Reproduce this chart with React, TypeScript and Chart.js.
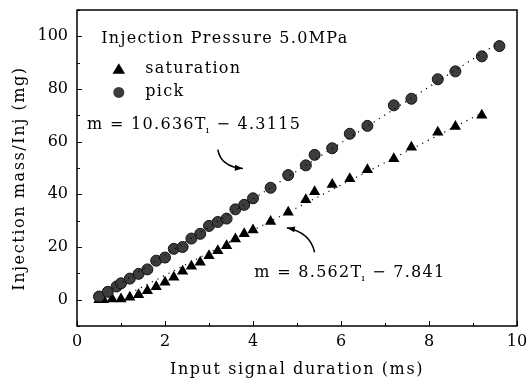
import React, { useEffect, useRef } from 'react';
import { Chart, registerables } from 'chart.js';
Chart.register(...registerables);

// ---- data ----
const pickX = [0.5, 0.7, 0.9, 1.0, 1.2, 1.4, 1.6, 1.8, 2.0, 2.2, 2.4, 2.6, 2.8, 3.0, 3.2, 3.4, 3.6, 3.8, 4.0, 4.4, 4.8, 5.2, 5.4, 5.8, 6.2, 6.6, 7.2, 7.6, 8.2, 8.6, 9.2, 9.6];
const pickY = [1.2, 3.0, 5.0, 6.2, 8.0, 9.8, 11.5, 14.8, 16.0, 19.3, 20.0, 23.2, 25.0, 28.0, 29.5, 30.8, 34.3, 36.0, 38.5, 42.5, 47.3, 51.0, 55.0, 57.5, 63.0, 66.0, 73.8, 76.3, 83.7, 86.7, 92.4, 96.3];
const satX = [0.5, 0.6, 0.8, 1.0, 1.2, 1.4, 1.6, 1.8, 2.0, 2.2, 2.4, 2.6, 2.8, 3.0, 3.2, 3.4, 3.6, 3.8, 4.0, 4.4, 4.8, 5.2, 5.4, 5.8, 6.2, 6.6, 7.2, 7.6, 8.2, 8.6, 9.2];
const satY = [0.0, 0.0, 0.3, 0.3, 0.9, 1.9, 3.4, 4.9, 6.6, 8.5, 10.8, 12.7, 14.2, 16.7, 18.6, 20.5, 23.0, 25.0, 26.5, 29.7, 33.2, 37.9, 41.0, 43.7, 45.9, 49.3, 53.5, 57.9, 63.6, 65.8, 70.0];
// dotted fit lines (end points)
const pickFitX = [0.8, 9.6];
const pickFitY = [4.2, 97.8];
const satFitX = [1.2, 9.2];
const satFitY = [2.4, 70.9];

const xTickLabels = ['0', '2', '4', '6', '8', '10'];
const yTickLabels = ['0', '20', '40', '60', '80', '100'];

const titleText = 'Injection Pressure 5.0MPa';
const legendSat = 'saturation';
const legendPick = 'pick';
const eqPick = ['m = 10.636T', 'ı', ' \u2212 4.3115'];
const eqSat = ['m = 8.562T', 'ı', ' \u2212 7.841'];
const xTitle = 'Input signal duration (ms)';
const yTitle = 'Injection mass/Inj (mg)';

const FONT = "'DejaVu Serif', serif";

const toXY = (xs: number[], ys: number[]) => xs.map((x, i) => ({ x, y: ys[i] }));

export default function App() {
  const ref = useRef<HTMLCanvasElement | null>(null);
  useEffect(() => {
    document.body.style.margin = '0';
    const canvas = ref.current!;
    const drawTri = (ctx: CanvasRenderingContext2D, cx: number, cy: number, r: number) => {
      ctx.beginPath();
      ctx.moveTo(cx, cy - r);
      ctx.lineTo(cx + r * 1.05, cy + r * 0.75);
      ctx.lineTo(cx - r * 1.05, cy + r * 0.75);
      ctx.closePath();
      ctx.fill();
    };
    const setLS = (ctx: any, v: string) => { try { ctx.letterSpacing = v; } catch (e) { /* ignore */ } };
    const drawEq = (ctx: CanvasRenderingContext2D, parts: string[], px: number, py: number) => {
      ctx.font = `16px ${FONT}`;
      setLS(ctx, '1.3px');
      ctx.textBaseline = 'middle';
      ctx.textAlign = 'left';
      ctx.fillText(parts[0], px, py);
      let w = ctx.measureText(parts[0]).width;
      ctx.font = `10px ${FONT}`;
      setLS(ctx, '0px');
      ctx.fillText(parts[1], px + w - 1, py + 6);
      w += ctx.measureText(parts[1]).width;
      ctx.font = `16px ${FONT}`;
      setLS(ctx, '1.3px');
      ctx.fillText(parts[2], px + w, py);
    };
    const arrow = (ctx: CanvasRenderingContext2D, x0: number, y0: number, cx: number, cy: number, x1: number, y1: number) => {
      ctx.beginPath();
      ctx.moveTo(x0, y0);
      ctx.quadraticCurveTo(cx, cy, x1, y1);
      ctx.lineWidth = 1.5;
      ctx.stroke();
      const ang = Math.atan2(y1 - cy, x1 - cx);
      const L = 8, W = 3;
      ctx.beginPath();
      ctx.moveTo(x1, y1);
      ctx.lineTo(x1 - L * Math.cos(ang) + W * Math.sin(ang), y1 - L * Math.sin(ang) - W * Math.cos(ang));
      ctx.lineTo(x1 - L * Math.cos(ang) - W * Math.sin(ang), y1 - L * Math.sin(ang) + W * Math.cos(ang));
      ctx.closePath();
      ctx.fill();
    };
    const deco = {
      id: 'deco',
      afterDatasetsDraw(chart: any) {
        const { ctx, chartArea: a, scales } = chart;
        const xs = scales.x, ys = scales.y;
        ctx.save();
        ctx.strokeStyle = '#000';
        ctx.fillStyle = '#000';
        ctx.lineWidth = 1.5;
        ctx.strokeRect(a.left, a.top, a.right - a.left, a.bottom - a.top);
        ctx.lineWidth = 1;
        // inward ticks
        for (let v = 0; v <= 10; v += 1) {
          const px = Math.round(xs.getPixelForValue(v)) + 0.5;
          const len = v % 2 === 0 ? 5 : 3;
          ctx.beginPath();
          ctx.moveTo(px, a.bottom); ctx.lineTo(px, a.bottom - len);
          ctx.stroke();
        }
        for (let v = -10; v <= 110; v += 10) {
          const py = Math.round(ys.getPixelForValue(v)) + 0.5;
          const len = v % 20 === 0 ? 5 : 3;
          ctx.beginPath();
          ctx.moveTo(a.left, py); ctx.lineTo(a.left + len, py);
          ctx.stroke();
        }
        // axis titles
        ctx.font = `16px ${FONT}`;
        setLS(ctx, '1.6px');
        ctx.textBaseline = 'middle';
        ctx.textAlign = 'center';
        ctx.fillText(xTitle, (a.left + a.right) / 2, 370);
        ctx.save();
        ctx.translate(20, ys.getPixelForValue(46));
        ctx.rotate(-Math.PI / 2);
        ctx.fillText(yTitle, 0, 0);
        ctx.restore();
        // title + legend
        ctx.font = `16px ${FONT}`;
        setLS(ctx, '1.3px');
        ctx.textBaseline = 'middle';
        ctx.textAlign = 'left';
        ctx.fillText(titleText, xs.getPixelForValue(0.55), ys.getPixelForValue(99.2));
        drawTri(ctx, xs.getPixelForValue(0.95), ys.getPixelForValue(87.5), 6);
        ctx.fillText(legendSat, xs.getPixelForValue(1.55), ys.getPixelForValue(87.8));
        ctx.beginPath();
        ctx.arc(xs.getPixelForValue(0.95), ys.getPixelForValue(78.7), 5.5, 0, Math.PI * 2);
        ctx.fillStyle = '#3c3c3c';
        ctx.fill();
        ctx.fillStyle = '#000';
        ctx.fillText(legendPick, xs.getPixelForValue(1.55), ys.getPixelForValue(78.9));
        // equations
        drawEq(ctx, eqPick, xs.getPixelForValue(0.23), ys.getPixelForValue(66.5));
        drawEq(ctx, eqSat, xs.getPixelForValue(4.03), ys.getPixelForValue(10.3));
        // arrows
        arrow(ctx,
          xs.getPixelForValue(3.2), ys.getPixelForValue(57.0),
          xs.getPixelForValue(3.27), ys.getPixelForValue(50.5),
          xs.getPixelForValue(3.77), ys.getPixelForValue(49.8));
        arrow(ctx,
          xs.getPixelForValue(5.4), ys.getPixelForValue(18),
          xs.getPixelForValue(5.3), ys.getPixelForValue(25.5),
          xs.getPixelForValue(4.77), ys.getPixelForValue(27.3));
        ctx.restore();
      },
    };
    const chart = new Chart(canvas, {
      type: 'scatter',
      data: {
        datasets: [
          {
            label: 'pick fit', data: toXY(pickFitX, pickFitY), showLine: true,
            borderColor: '#000', borderWidth: 1.2, borderDash: [1.2, 5], pointRadius: 0, fill: false,
          },
          {
            label: 'saturation fit', data: toXY(satFitX, satFitY), showLine: true,
            borderColor: '#000', borderWidth: 1.2, borderDash: [1.2, 5], pointRadius: 0, fill: false,
          },
          {
            label: 'pick', data: toXY(pickX, pickY), pointStyle: 'circle', pointRadius: 5.5,
            backgroundColor: '#3c3c3c', borderColor: '#111', borderWidth: 1,
          },
          {
            label: 'saturation', data: toXY(satX, satY), pointStyle: 'triangle', pointRadius: 6.5,
            backgroundColor: '#000', borderColor: '#000', borderWidth: 0,
          },
        ],
      },
      options: {
        animation: false,
        responsive: false,
        maintainAspectRatio: false,
        layout: { padding: { top: 10, right: 12, left: 0, bottom: 0 } },
        plugins: { legend: { display: false }, tooltip: { enabled: false } },
        scales: {
          x: {
            type: 'linear', min: 0, max: 10,
            border: { display: false },
            grid: { display: false, drawTicks: false },
            ticks: {
              stepSize: 1, padding: 6, color: '#000', maxRotation: 0, autoSkip: false,
              font: { family: FONT, size: 16 },
              callback: (v: any) => (Number(v) % 2 === 0 ? xTickLabels[Number(v) / 2] : ''),
            },
            title: { display: false },
            afterFit: (s: any) => { s.height = 59; s.paddingLeft = 0; s.paddingRight = 0; },
          },
          y: {
            type: 'linear', min: -10, max: 110,
            border: { display: false },
            grid: { display: false, drawTicks: false },
            ticks: {
              stepSize: 10, padding: 9, color: '#000', autoSkip: false,
              font: { family: FONT, size: 16 },
              callback: (v: any) => {
                const n = Number(v);
                return n >= 0 && n <= 100 && n % 20 === 0 ? yTickLabels[n / 20] : '';
              },
            },
            title: { display: false },
            afterFit: (s: any) => { s.width = 77; s.paddingTop = 0; s.paddingBottom = 0; },
          },
        },
      },
      plugins: [deco],
    });
    return () => chart.destroy();
  }, []);
  return (
    <div style={{ position: 'absolute', left: 0, top: 0, width: 529, height: 385, background: '#fff' }}>
      <canvas ref={ref} width={529} height={385} style={{ width: 529, height: 385 }} />
    </div>
  );
}
